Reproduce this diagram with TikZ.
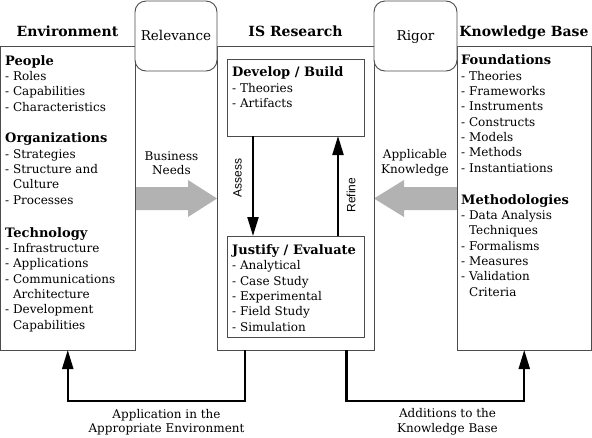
\documentclass[tikz,border=0pt]{standalone}
\usepackage{fontspec}
\setmainfont{DejaVu Serif}
\setsansfont{Liberation Sans}
\usetikzlibrary{arrows.meta}

\tikzset{
  box/.style={draw=black!70, line width=0.9pt, inner sep=0pt, outer sep=0pt},
  rbox/.style={box, fill=white, rounded corners=11pt},
  txt/.style={font=\fontsize{12}{15.3}\selectfont, inner sep=0pt, align=left, anchor=base west},
  ttl/.style={font=\fontsize{14}{15}\selectfont\bfseries, inner sep=0pt, anchor=base},
  note/.style={font=\fontsize{12}{14.5}\selectfont, align=center, inner sep=0pt},
  side/.style={font=\sffamily\fontsize{12}{14}\selectfont, inner sep=0pt},
  conn/.style={line width=2.2pt, -{Triangle[length=19pt,width=11pt]}},
  fat/.style={fill=black!30},
}
\newcommand{\hd}[1]{{\fontsize{13}{15.3}\selectfont\bfseries #1}}

\begin{document}
\begin{tikzpicture}[x=1pt,y=-1pt]
\useasboundingbox (0,0) rectangle (592,437);

\fill[fat] (135,187) -- (188,187) -- (188,180) -- (217,198.5) -- (188,217) -- (188,210) -- (135,210) -- cycle;
\fill[fat] (457,187) -- (404,187) -- (404,180) -- (374,198.5) -- (404,217) -- (404,210) -- (457,210) -- cycle;

\node[box, minimum width=134.5pt, minimum height=304pt] (env) at (67.75,198) {};
\node[box, minimum width=157pt, minimum height=304pt] (is) at (295.5,198) {};
\node[box, minimum width=134.5pt, minimum height=304pt] (kb) at (524.25,198) {};
\node[rbox, minimum width=82pt, minimum height=70pt] (rel) at (176,36) {};
\node[rbox, minimum width=83pt, minimum height=70pt] (rig) at (415.5,36) {};
\node[box, minimum width=136.5pt, minimum height=77pt] (dev) at (296,97.5) {};
\node[box, minimum width=136.5pt, minimum height=101pt] (jus) at (296,286.5) {};

\node[ttl] (tenv) at (67.5,36) {Environment};
\node[ttl] (tis) at (295.5,36) {IS Research};
\node[ttl] (tkb) at (524,36) {Knowledge Base};
\node[note, anchor=base, font=\fontsize{13.5}{15}\selectfont] (trel) at (176,40.5) {Relevance};
\node[note, anchor=base, font=\fontsize{13.5}{15}\selectfont] (trig) at (415.5,40.5) {Rigor};

\node[txt] (people) at (5,111) {\hd{People}\\- Roles\\- Capabilities\\- Characteristics};
\node[txt] (org) at (5,204) {\hd{Organizations}\\- Strategies\\- Structure and\\\hphantom{-} Culture\\- Processes};
\node[txt] (tech) at (5,329) {\hd{Technology}\\- Infrastructure\\- Applications\\- Communications\\\hphantom{-} Architecture\\- Development\\\hphantom{-} Capabilities};
\node[txt] (build) at (232,107.5) {\hd{Develop / Build}\\- Theories\\- Artifacts};
\node[txt] (eval) at (232,331) {\hd{Justify / Evaluate}\\- Analytical\\- Case Study\\- Experimental\\- Field Study\\- Simulation};
\node[txt] (found) at (461,172) {\hd{Foundations}\\- Theories\\- Frameworks\\- Instruments\\- Constructs\\- Models\\- Methods\\- Instantiations};
\node[txt] (meth) at (461,296) {\hd{Methodologies}\\- Data Analysis\\\hphantom{-} Techniques\\- Formalisms\\- Measures\\- Validation\\\hphantom{-} Criteria};

\node[note] (need) at (171.5,163) {Business\\Needs};
\node[note] (know) at (415,163) {Applicable\\Knowledge};
\node[note] (appl) at (166.5,422) {Application in the\\Appropriate Environment};
\node[note] (add) at (447.5,422) {Additions to the\\Knowledge Base};

\coordinate (as) at ([xshift=-43pt]dev.south);
\coordinate (re) at ([xshift=42pt]jus.north);
\draw[conn] (as) -- (as |- jus.north);
\draw[conn] (re) -- (re |- dev.south);
\node[side, rotate=90] (tas) at (237.5,178) {Assess};
\node[side, rotate=90] (tre) at (351,195) {Refine};

\coordinate (ap) at ([xshift=-50.5pt]is.south);
\coordinate (ad) at ([xshift=51pt]is.south);
\draw[conn] (ap) -- ++(0,51) -| (env.south);
\draw[conn] (ad) -- ++(0,51) -| (kb.south);
\end{tikzpicture}
\end{document}
